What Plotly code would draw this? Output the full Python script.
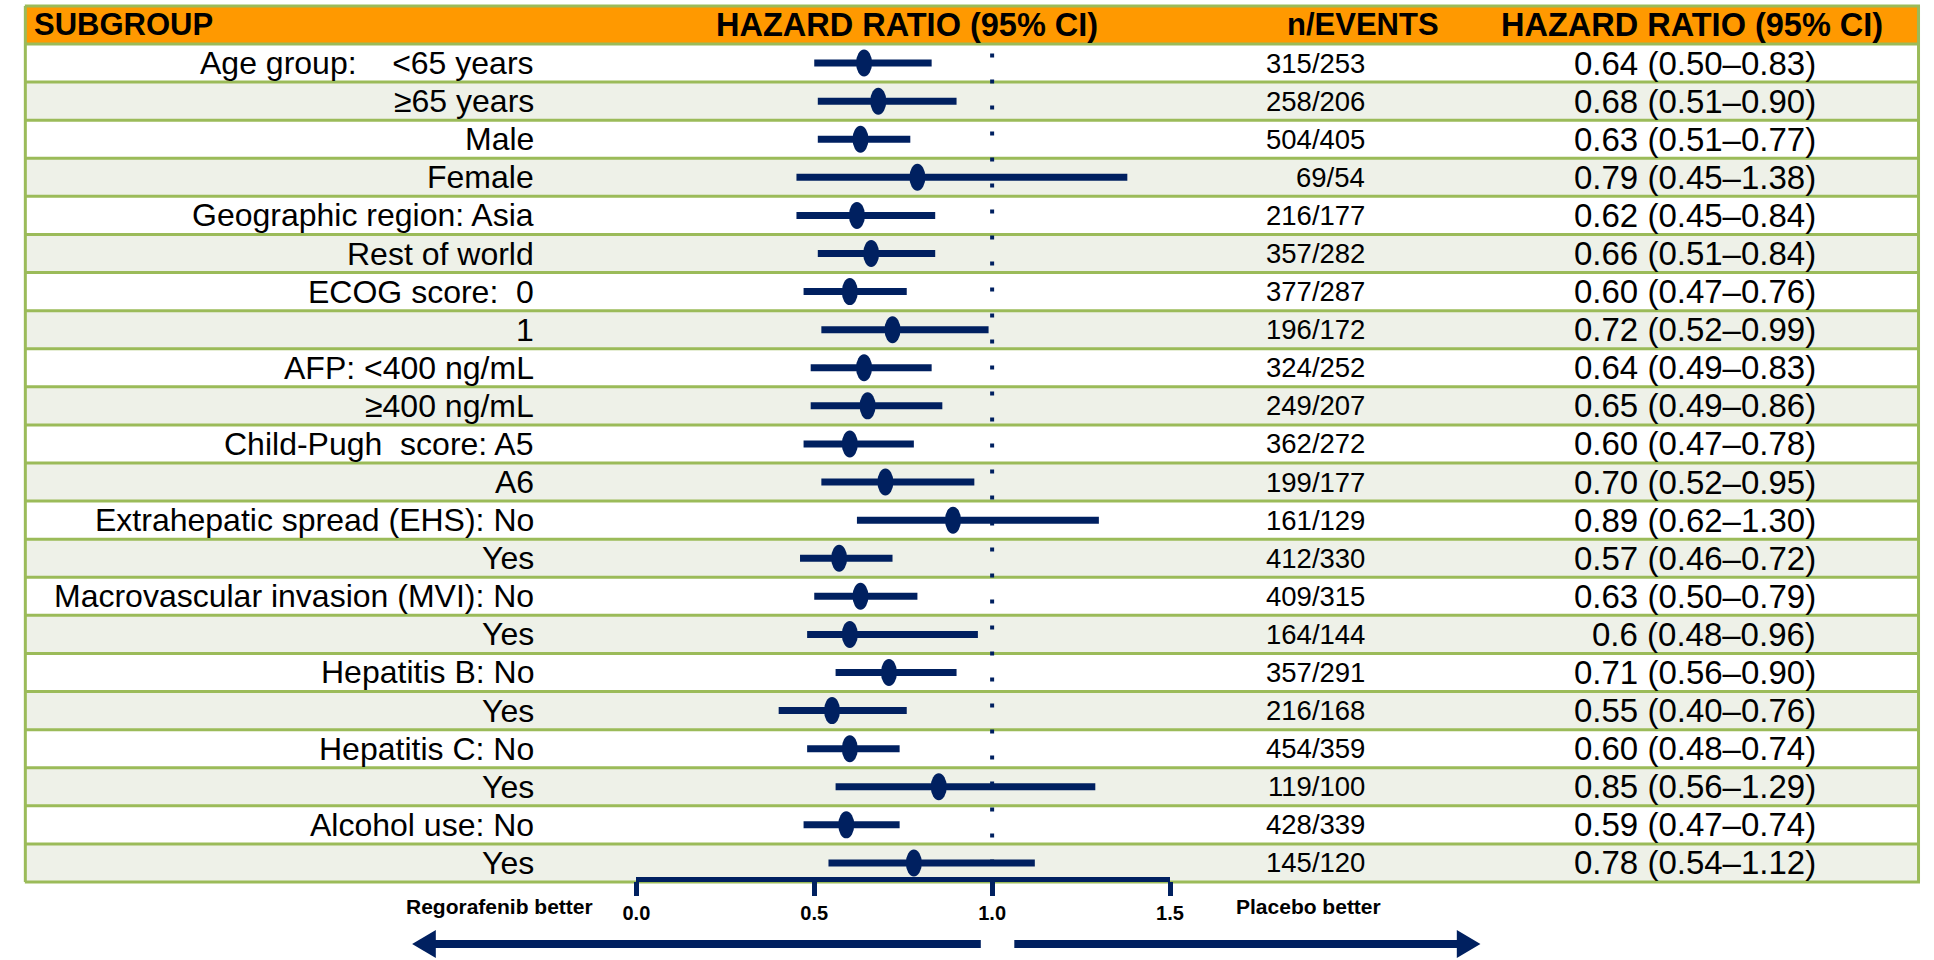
import plotly.graph_objects as go

# ---- data -------------------------------------------------------------
subgroups = [
    "Age group:\u00a0\u00a0\u00a0\u00a0<65 years", "\u226565 years",
    "Male", "Female",
    "Geographic region: Asia", "Rest of world",
    "ECOG score:\u00a0\u00a00", "1",
    "AFP: <400 ng/mL", "\u2265400 ng/mL",
    "Child-Pugh\u00a0\u00a0score: A5", "A6",
    "Extrahepatic spread (EHS): No", "Yes",
    "Macrovascular invasion (MVI): No", "Yes",
    "Hepatitis B: No", "Yes",
    "Hepatitis C: No", "Yes",
    "Alcohol use: No", "Yes",
]
n_events = [
    "315/253", "258/206", "504/405", "69/54", "216/177", "357/282",
    "377/287", "196/172", "324/252", "249/207", "362/272", "199/177",
    "161/129", "412/330", "409/315", "164/144", "357/291", "216/168",
    "454/359", "119/100", "428/339", "145/120",
]
hr_text = [
    "0.64", "0.68", "0.63", "0.79", "0.62", "0.66", "0.60", "0.72",
    "0.64", "0.65", "0.60", "0.70", "0.89", "0.57", "0.63", "0.6",
    "0.71", "0.55", "0.60", "0.85", "0.59", "0.78",
]
ci_low = [
    0.50, 0.51, 0.51, 0.45, 0.45, 0.51, 0.47, 0.52, 0.49, 0.49, 0.47,
    0.52, 0.62, 0.46, 0.50, 0.48, 0.56, 0.40, 0.48, 0.56, 0.47, 0.54,
]
ci_high = [
    0.83, 0.90, 0.77, 1.38, 0.84, 0.84, 0.76, 0.99, 0.83, 0.86, 0.78,
    0.95, 1.30, 0.72, 0.79, 0.96, 0.90, 0.76, 0.74, 1.29, 0.74, 1.12,
]
hr = [float(s) for s in hr_text]
axis_ticks = [0.0, 0.5, 1.0, 1.5]
axis_ticktext = ["0.0", "0.5", "1.0", "1.5"]

# ---- layout helpers ---------------------------------------------------
W, H = 1934, 960
NAVY = "#002060"
ORANGE = "#ff9900"
GREEN = "#9bbb59"
ROW_ALT = "#eef1e8"
FONT = "Liberation Sans, Arial, sans-serif"

def px(x):
    return x / W

def py(y):
    return 1 - y / H

n = len(subgroups)
rows = list(range(n))

fig = go.Figure()

# confidence-interval bars (one trace, segments split with None)
xs, ys = [], []
for i in rows:
    xs += [ci_low[i], ci_high[i], None]
    ys += [i, i, None]
fig.add_trace(go.Scatter(x=xs, y=ys, mode="lines",
                         line=dict(color=NAVY, width=7),
                         hoverinfo="skip", showlegend=False))
fig.add_trace(go.Scatter(x=hr, y=rows, mode="markers",
                         marker=dict(color=NAVY, size=1, opacity=0),
                         hovertemplate="HR %{x}<extra></extra>",
                         showlegend=False))

shapes = []
# header band and alternating row backgrounds
shapes.append(dict(type="rect", xref="paper", yref="y", x0=px(11), x1=1,
                   y0=-1.5, y1=-0.5, fillcolor=ORANGE, line_width=0,
                   layer="below"))
for i in rows:
    shapes.append(dict(type="rect", xref="paper", yref="y", x0=px(11), x1=1,
                       y0=i - 0.5, y1=i + 0.5,
                       fillcolor="white" if i % 2 == 0 else ROW_ALT,
                       line_width=0, layer="below"))
# grid lines of the table
for k in range(-1, n + 1):
    shapes.append(dict(type="line", xref="paper", yref="y", x0=px(11), x1=1,
                       y0=k - 0.5, y1=k - 0.5,
                       line=dict(color=GREEN, width=3), layer="below"))
for xb in (px(11.5), px(1932.5)):
    shapes.append(dict(type="line", xref="paper", yref="y", x0=xb, x1=xb,
                       y0=-1.5, y1=n - 0.5,
                       line=dict(color=GREEN, width=3), layer="below"))

# line of no effect
shapes.append(dict(type="line", xref="x", yref="y", x0=1.0, x1=1.0,
                   y0=-0.25, y1=n - 0.1,
                   line=dict(color=NAVY, width=4, dash="4px,22px")))

# point estimates as upright ellipses
for i in rows:
    shapes.append(dict(type="circle", xref="x", yref="y",
                       xsizemode="pixel", ysizemode="pixel",
                       xanchor=hr[i], yanchor=i,
                       x0=-8, x1=8, y0=-13.5, y1=13.5,
                       fillcolor=NAVY, line_width=0))

# direction arrows below the axis
ay = 944
shapes.append(dict(type="line", xref="paper", yref="paper",
                   x0=px(424), x1=px(981), y0=py(ay), y1=py(ay),
                   line=dict(color=NAVY, width=8)))
shapes.append(dict(type="path", xref="paper", yref="paper",
                   path=f"M {px(404)} {py(ay)} L {px(428)} {py(ay - 14)} "
                        f"L {px(428)} {py(ay + 14)} Z",
                   fillcolor=NAVY, line_width=0))
shapes.append(dict(type="line", xref="paper", yref="paper",
                   x0=px(1015), x1=px(1468), y0=py(ay), y1=py(ay),
                   line=dict(color=NAVY, width=8)))
shapes.append(dict(type="path", xref="paper", yref="paper",
                   path=f"M {px(1488)} {py(ay)} L {px(1464)} {py(ay - 14)} "
                        f"L {px(1464)} {py(ay + 14)} Z",
                   fillcolor=NAVY, line_width=0))

annotations = []
label_font = dict(family=FONT, size=32, color="black")
count_font = dict(family=FONT, size=27.5, color="black")
ratio_font = dict(family=FONT, size=33, color="black")

def hdr(text, x, anchor, size):
    annotations.append(dict(text=f"<b>{text}</b>", xref="paper", yref="y",
                            x=px(x), y=-1, xanchor=anchor, yanchor="middle",
                            showarrow=False,
                            font=dict(family=FONT, size=size, color="black")))

hdr("SUBGROUP", 18, "left", 31)
hdr("HAZARD RATIO (95% CI)", 906, "center", 32.5)
hdr("n/EVENTS", 1369, "center", 31)
hdr("HAZARD RATIO (95% CI)", 1703, "center", 32.5)

for i in rows:
    annotations.append(dict(text=subgroups[i], xref="paper", yref="y",
                            x=px(530), y=i, xanchor="right", yanchor="middle",
                            showarrow=False, font=label_font))
    annotations.append(dict(text=n_events[i], xref="paper", yref="y",
                            x=px(1373), y=i, xanchor="right", yanchor="middle",
                            showarrow=False, font=count_font))
    annotations.append(dict(
        text=f"{hr_text[i]} ({ci_low[i]:.2f}\u2013{ci_high[i]:.2f})",
        xref="paper", yref="y", x=px(1830), y=i, xanchor="right",
        yanchor="middle", showarrow=False, font=ratio_font))

side_font = dict(family=FONT, size=21, color="black")
annotations.append(dict(text="<b>Regorafenib better</b>", xref="paper",
                        yref="paper", x=px(590), y=py(906), xanchor="right",
                        yanchor="middle", showarrow=False, font=side_font))
annotations.append(dict(text="<b>Placebo better</b>", xref="paper",
                        yref="paper", x=px(1238), y=py(906), xanchor="left",
                        yanchor="middle", showarrow=False, font=side_font))

# axis scale: x from 0 at 631.5 px to 1.5 at 1173 px
x0_px, x15_px = 631.5, 1173.0
row_pitch = 38.09
first_center = 63.05
y_top = -first_center / row_pitch
y_bottom = (H - first_center) / row_pitch

fig.update_layout(
    width=W, height=H,
    margin=dict(l=0, r=0, t=0, b=0),
    paper_bgcolor="white", plot_bgcolor="rgba(0,0,0,0)",
    shapes=shapes, annotations=annotations,
    xaxis=dict(domain=[px(x0_px), px(x15_px)], range=[0, 1.5],
               anchor="free", position=py(878.5),
               showgrid=False, zeroline=False,
               showline=True, linecolor=NAVY, linewidth=5,
               ticks="outside", ticklen=14, tickwidth=5, tickcolor=NAVY,
               tickvals=axis_ticks, ticktext=[f"<b>{t}</b>" for t in axis_ticktext],
               tickfont=dict(family=FONT, size=20, color="black")),
    yaxis=dict(domain=[0, 1], range=[y_bottom, y_top],
               visible=False, showgrid=False, zeroline=False),
    showlegend=False,
)

fig.write_html("out.html")
